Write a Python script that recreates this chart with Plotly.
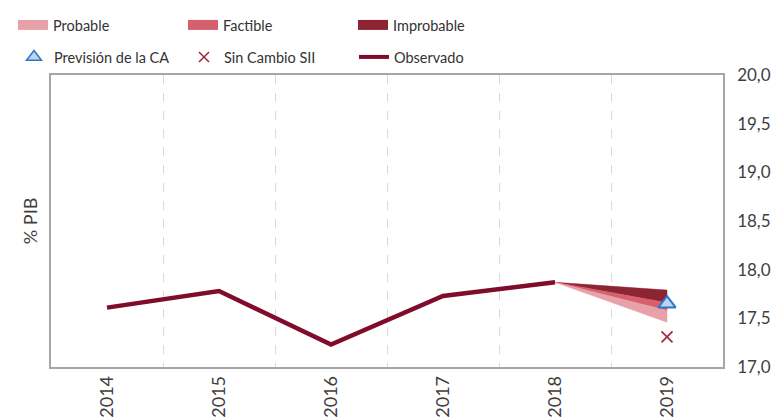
import plotly.graph_objects as go

years = ["2014", "2015", "2016", "2017", "2018", "2019"]
obs_years = ["2014", "2015", "2016", "2017", "2018"]
observado = [17.61, 17.78, 17.23, 17.73, 17.87]

fan_years = ["2018", "2019"]
improbable_upper = [17.87, 17.79]
improbable_lower = [17.87, 17.66]
factible_upper = [17.87, 17.66]
factible_lower = [17.87, 17.58]
probable_upper = [17.87, 17.58]
probable_lower = [17.87, 17.46]

prevision_year = ["2019"]
prevision_ca = [17.65]
sin_cambio_year = ["2019"]
sin_cambio = [17.31]

C_PROB = "#E8A1A9"
C_FACT = "#D7606E"
C_IMPR = "#8C2433"
C_OBS = "#800C2C"

FONT = "Lato"

fig = go.Figure()

def band(upper, lower, color):
    return go.Scatter(
        x=fan_years + fan_years[::-1],
        y=upper + lower[::-1],
        fill="toself", fillcolor=color, mode="lines",
        line=dict(width=0.5, color=color), showlegend=False, hoverinfo="skip")

fig.add_trace(band(improbable_upper, improbable_lower, C_IMPR))
fig.add_trace(band(factible_upper, factible_lower, C_FACT))
fig.add_trace(band(probable_upper, probable_lower, C_PROB))

fig.add_trace(go.Scatter(x=obs_years, y=observado, mode="lines",
                         line=dict(color=C_OBS, width=4.5), showlegend=False))

fig.add_trace(go.Scatter(x=prevision_year, y=prevision_ca, mode="markers",
                         marker=dict(symbol="triangle-up", size=15, color="#BCD5EE",
                                     line=dict(color="#2A78C8", width=2)),
                         showlegend=False))
fig.add_trace(go.Scatter(x=sin_cambio_year, y=sin_cambio, mode="markers",
                         marker=dict(symbol="x-thin", size=11,
                                     line=dict(color="#A0283A", width=1.6)),
                         showlegend=False))

# legend entries (legend-only proxies)
fig.add_trace(go.Scatter(x=[None], y=[None], mode="lines", name="Probable",
                         line=dict(color=C_PROB, width=12), legend="legend"))
fig.add_trace(go.Scatter(x=[None], y=[None], mode="lines", name="Factible",
                         line=dict(color=C_FACT, width=12), legend="legend"))
fig.add_trace(go.Scatter(x=[None], y=[None], mode="lines", name="Improbable",
                         line=dict(color=C_IMPR, width=12), legend="legend"))
fig.add_trace(go.Scatter(x=[None], y=[None], mode="markers", name="Previsión de la CA",
                         marker=dict(symbol="triangle-up", size=13, color="#BCD5EE",
                                     line=dict(color="#2A78C8", width=1.5)),
                         legend="legend2"))
fig.add_trace(go.Scatter(x=[None], y=[None], mode="markers", name="Sin Cambio SII",
                         marker=dict(symbol="x-thin", size=10,
                                     line=dict(color="#A0283A", width=1.5)),
                         legend="legend2"))
fig.add_trace(go.Scatter(x=[None], y=[None], mode="lines", name="Observado",
                         line=dict(color=C_OBS, width=4), legend="legend2"))

W, H = 780, 417
leg_common = dict(orientation="h", xref="container", yref="container",
                  xanchor="left", yanchor="middle", entrywidth=125,
                  entrywidthmode="pixels", font=dict(family=FONT, size=14.5, color="#333333"),
                  bgcolor="rgba(0,0,0,0)", itemclick=False, tracegroupgap=0)

fig.update_layout(
    width=W, height=H,
    margin=dict(l=43, r=65, t=67, b=58, autoexpand=False),
    paper_bgcolor="white", plot_bgcolor="white",
    separators=", ",
    font=dict(family=FONT, size=17, color="#404040"),
    legend=dict(x=5 / W, y=1 - 17 / H, **leg_common),
    legend2=dict(x=6 / W, y=1 - 49 / H, **leg_common),
    xaxis=dict(type="category", categoryorder="array", categoryarray=years,
               range=[-0.5, 5.5], tickangle=-90, tickson="boundaries",
               ticks="", showgrid=True, griddash="dash", gridcolor="#D9D9D9",
               gridwidth=1.2, showline=True, linecolor="#A6A6A6", linewidth=1.5,
               mirror=True, tickfont=dict(size=18, color="#404040"), zeroline=False,
               automargin=False),
    yaxis=dict(side="right", range=[17, 20], dtick=0.5, tick0=17, tickformat=".1f",
               showgrid=False, zeroline=False, showline=True, linecolor="#A6A6A6",
               linewidth=1.5, mirror=True, ticks="", ticklabelstandoff=9,
               tickfont=dict(size=17, color="#404040"), automargin=False),
    annotations=[dict(text="% PIB", textangle=-90, xref="paper", yref="paper",
                      x=-0.031, y=0.5, xanchor="center", yanchor="middle",
                      showarrow=False, font=dict(size=18, color="#404040"))],
)

fig.write_html("out.html")
